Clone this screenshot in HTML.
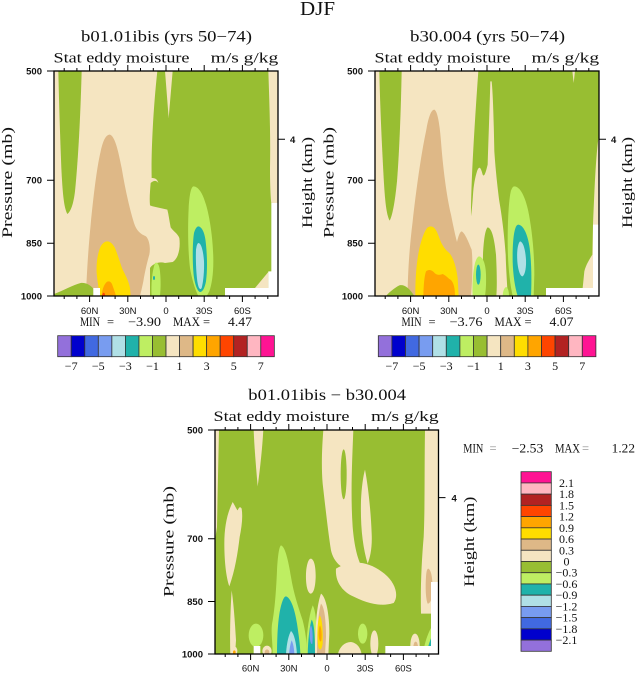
<!DOCTYPE html>
<html><head><meta charset="utf-8"><style>
html,body{margin:0;padding:0;background:#fff;width:637px;height:673px;overflow:hidden}
svg{display:block}
.wh{fill:#F5E5C1}.gr{fill:#98BE32}.pg{fill:#BEEE62}.tl{fill:#20B2AA}.pb{fill:#B0E0E6}.cf{fill:#789CF0}.rb{fill:#4169E1}.mb{fill:#0000CD}.pu{fill:#9370DB}
.bw{fill:#DEB887}.gd{fill:#FFDD00}.or{fill:#FFA500}.og{fill:#FF4500}.fb{fill:#B22222}.lp{fill:#FFB6C1}.dp{fill:#FF1493}.wt{fill:#fff}
text{font-family:"Liberation Serif",serif;fill:#111}
.tk{font-family:"Liberation Sans",sans-serif;font-weight:bold;font-size:9.5px}
.xl{font-family:"Liberation Sans",sans-serif;font-size:9.5px}
.cb{font-size:12px}
.mm{font-size:12.5px}
</style></head><body>
<svg width="637" height="673" viewBox="0 0 637 673" xmlns="http://www.w3.org/2000/svg">
<defs>
<clipPath id="c1"><rect x="12" y="9" width="672" height="675"/></clipPath>
<clipPath id="c2"><rect x="12" y="9" width="672" height="672"/></clipPath>
</defs>
<rect width="637" height="673" fill="#fff"/>

<text x="300" y="15" font-size="20" fill="#333" textLength="35" lengthAdjust="spacingAndGlyphs">DJF</text>

<!-- ================= PANEL 1 ================= -->
<g transform="translate(50,68) scale(0.333333)"><g clip-path="url(#c1)">
<rect x="12" y="9" width="672" height="675" class="wh"/>
<path class="gr" d="M25,9 L95,9 C92,120 86,260 75,370 C70,410 62,430 52,438 C42,420 38,380 34,300 C30,200 27,100 25,9 Z"/>
<path class="gr" d="M322,9 L345,9 L356,150 L368,9 L655,9 C658,100 662,200 660,300 C660,350 662,390 664,405 L684,405 L684,684 L300,684 L300,600 C310,585 330,580 345,585 L368,582 C385,572 392,540 388,510 C382,495 370,490 362,478 C358,458 356,440 352,425 C335,420 315,418 300,412 C298,390 300,370 302,345 C310,338 318,335 325,345 C322,333 315,330 305,330 C303,250 310,120 322,9 Z"/>
<path class="bw" d="M180,200 C195,205 205,250 215,300 C225,360 238,420 252,465 C260,490 272,498 288,505 C298,515 302,540 298,560 C292,580 285,610 280,640 C276,660 272,675 270,684 L108,684 C110,620 115,540 122,470 C130,390 140,300 152,250 C160,215 168,200 180,200 Z"/>
<path class="gr" d="M12,684 L12,678 C40,668 70,650 92,645 C108,643 122,652 130,662 L130,684 Z"/>
<path class="gd" d="M172,520 C182,520 190,530 195,540 C205,565 212,590 218,605 C228,625 236,640 240,660 L242,684 L150,684 C146,660 142,640 140,615 C138,580 145,550 152,535 C158,525 165,520 172,520 Z"/>
<path class="or" d="M155,684 C156,665 162,650 170,642 C176,638 182,640 186,648 C190,660 195,672 198,684 Z"/>
<path class="og" d="M156,684 C157,676 160,672 164,676 L166,684 Z"/>
<path class="pg" d="M305,684 C303,650 306,610 315,585 C322,580 328,590 330,610 C333,640 332,665 330,684 Z"/>
<ellipse class="tl" cx="312" cy="630" rx="3" ry="6"/>
<path class="pg" d="M430,355 C445,355 458,375 468,410 C480,450 490,520 490,580 C490,620 485,650 478,670 L470,684 L445,684 C435,665 425,630 420,600 C414,550 413,480 416,420 C418,385 422,358 430,355 Z"/>
<path class="tl" d="M446,475 C458,478 466,500 468,530 C472,570 472,610 468,640 C464,660 458,672 450,672 C440,668 432,640 430,610 C427,570 428,520 432,495 C436,482 440,475 446,475 Z"/>
<path class="pb" d="M446,525 C454,527 460,550 462,580 C463,610 460,640 455,660 C450,668 445,660 442,640 C438,610 437,570 438,545 C440,532 442,525 446,525 Z"/>
<path class="wh" d="M615,660 L655,612 L655,660 Z"/>
<path class="wt" d="M664,405 L684,405 L684,684 L525,684 L525,660 L655,660 L655,610 L664,610 Z"/>
<rect class="wt" x="130" y="660" width="20" height="24"/>
</g></g>
<g transform="translate(54,71)">
<rect x="0" y="0" width="224" height="225" fill="none" stroke="#000" stroke-width="1.3"/>
<path stroke="#000" stroke-width="1" fill="none" d="M35.6,0v-6M73.8,0v-6M112,0v-6M150.2,0v-6M188.4,0v-6M10.2,0v-3M22.9,0v-3M48.4,0v-3M61.1,0v-3M86.5,0v-3M99.3,0v-3M124.7,0v-3M137.5,0v-3M162.9,0v-3M175.6,0v-3M201.1,0v-3M213.8,0v-3
M35.6,225v6M73.8,225v6M112,225v6M150.2,225v6M188.4,225v6M10.2,225v3M22.9,225v3M48.4,225v3M61.1,225v3M86.5,225v3M99.3,225v3M124.7,225v3M137.5,225v3M162.9,225v3M175.6,225v3M201.1,225v3M213.8,225v3
M0,0h-7M0,109.2h-7M0,172.2h-7M0,225h-7M224,68.3h7"/>
</g>
<text x="81" y="41.5" font-size="15.5" textLength="171" lengthAdjust="spacingAndGlyphs">b01.01ibis (yrs 50−74)</text>
<text x="53.5" y="62.5" font-size="14.5" textLength="136" lengthAdjust="spacingAndGlyphs">Stat eddy moisture</text>
<text x="210.7" y="62.5" font-size="14.5" textLength="67.6" lengthAdjust="spacingAndGlyphs">m/s g/kg</text>
<text class="tk" x="42" y="74.5" text-anchor="end">500</text>
<text class="tk" x="42" y="183.7" text-anchor="end">700</text>
<text class="tk" x="42" y="246.7" text-anchor="end">850</text>
<text class="tk" x="42" y="299.5" text-anchor="end">1000</text>
<text class="tk" x="290" y="143">4</text>
<text class="xl" x="89.6" y="314" text-anchor="middle">60N</text>
<text class="xl" x="127.8" y="314" text-anchor="middle">30N</text>
<text class="xl" x="166" y="314" text-anchor="middle">0</text>
<text class="xl" x="204.2" y="314" text-anchor="middle">30S</text>
<text class="xl" x="242.4" y="314" text-anchor="middle">60S</text>
<text transform="translate(12.2,182.5) rotate(-90)" text-anchor="middle" font-size="15" textLength="111" lengthAdjust="spacingAndGlyphs">Pressure (mb)</text>
<text transform="translate(312.2,182.5) rotate(-90)" text-anchor="middle" font-size="15" textLength="91" lengthAdjust="spacingAndGlyphs">Height (km)</text>
<text class="mm" x="80" y="326" textLength="20" lengthAdjust="spacingAndGlyphs">MIN</text>
<text class="mm" x="107" y="326">=</text>
<text class="mm" x="128" y="326" textLength="33" lengthAdjust="spacingAndGlyphs">−3.90</text>
<text class="mm" x="173" y="326" textLength="27" lengthAdjust="spacingAndGlyphs">MAX</text>
<text class="mm" x="203" y="326">=</text>
<text class="mm" x="228" y="326" textLength="24" lengthAdjust="spacingAndGlyphs">4.47</text>
<!-- colorbar 1 -->
<g transform="translate(57.7,335.7)" stroke="#333" stroke-width="0.8">
<rect class="pu" x="0" y="0" width="13.54" height="21"/>
<rect class="mb" x="13.54" y="0" width="13.54" height="21"/>
<rect class="rb" x="27.08" y="0" width="13.54" height="21"/>
<rect class="cf" x="40.62" y="0" width="13.54" height="21"/>
<rect class="pb" x="54.16" y="0" width="13.54" height="21"/>
<rect class="tl" x="67.7" y="0" width="13.54" height="21"/>
<rect class="pg" x="81.24" y="0" width="13.54" height="21"/>
<rect class="gr" x="94.78" y="0" width="13.54" height="21"/>
<rect class="wh" x="108.32" y="0" width="13.54" height="21"/>
<rect class="bw" x="121.86" y="0" width="13.54" height="21"/>
<rect class="gd" x="135.4" y="0" width="13.54" height="21"/>
<rect class="or" x="148.94" y="0" width="13.54" height="21"/>
<rect class="og" x="162.48" y="0" width="13.54" height="21"/>
<rect class="fb" x="176.02" y="0" width="13.54" height="21"/>
<rect class="lp" x="189.56" y="0" width="13.54" height="21"/>
<rect class="dp" x="203.1" y="0" width="13.54" height="21"/>
</g>
<g text-anchor="middle">
<text class="cb" x="71.2" y="370">−7</text>
<text class="cb" x="98.3" y="370">−5</text>
<text class="cb" x="125.4" y="370">−3</text>
<text class="cb" x="152.5" y="370">−1</text>
<text class="cb" x="179.5" y="370">1</text>
<text class="cb" x="206.6" y="370">3</text>
<text class="cb" x="233.7" y="370">5</text>
<text class="cb" x="260.8" y="370">7</text>
</g>

<!-- ================= PANEL 2 ================= -->
<g transform="translate(371,68) scale(0.333333)"><g clip-path="url(#c1)">
<rect x="12" y="9" width="672" height="675" class="wh"/>
<path class="gr" d="M25,9 L92,9 C90,120 85,250 78,340 C72,400 65,440 56,458 C46,440 42,400 38,330 C32,220 27,110 25,9 Z"/>
<path class="gr" d="M322,9 L604,9 L608,45 L612,9 L684,9 L684,684 L410,684 C408,640 405,600 404,560 C400,500 392,440 385,400 C380,360 375,320 370,250 C368,150 366,80 362,40 L358,40 C356,120 352,220 350,290 C345,310 340,330 335,320 C330,300 325,290 318,310 C312,330 308,350 306,380 C304,410 302,430 300,445 C300,340 310,180 322,9 Z"/>
<path class="gr" d="M350,478 C362,480 370,510 375,560 C378,620 378,660 376,684 L340,684 C338,640 335,600 336,560 C338,520 342,485 350,478 Z"/>
<path class="bw" d="M190,125 C200,130 206,170 210,220 C216,300 226,380 240,440 C246,470 252,500 258,522 C262,505 266,492 272,490 C282,495 292,520 302,545 C306,580 304,640 300,684 L110,684 C110,620 115,540 125,460 C135,370 150,260 165,190 C172,150 180,125 190,125 Z"/>
<path class="gr" d="M45,684 C55,672 70,660 85,652 C100,648 115,660 130,684 Z"/>
<path class="gd" d="M180,475 C192,476 198,490 205,510 C212,530 222,545 235,555 C248,570 256,600 260,630 L263,684 L133,684 C133,650 134,610 140,570 C146,530 158,490 170,478 C174,476 177,475 180,475 Z"/>
<path class="or" d="M157,684 C158,650 160,625 165,610 C172,604 180,605 188,612 C195,622 205,622 215,618 C225,622 232,632 240,636 C248,645 252,660 252,684 Z"/>
<path class="pg" d="M325,565 C337,568 344,590 345,620 C346,650 344,670 342,684 L305,684 C303,650 306,610 312,585 C316,572 320,565 325,565 Z"/>
<ellipse class="tl" cx="322" cy="620" rx="7" ry="30"/>
<path class="pg" d="M395,684 C396,665 402,655 408,658 C413,665 414,675 414,684 Z"/>
<path class="pg" d="M430,355 C448,356 462,385 472,430 C482,480 490,550 490,620 L488,684 L425,684 C415,640 410,580 410,520 C410,450 414,390 420,368 C423,360 426,355 430,355 Z"/>
<path class="tl" d="M442,470 C458,472 470,500 476,540 C482,590 482,640 480,684 L440,684 C432,660 426,620 425,580 C424,530 428,490 435,476 C437,472 440,470 442,470 Z"/>
<path class="pb" d="M447,520 C457,522 463,545 465,575 C466,600 462,620 455,625 C447,625 441,605 439,580 C437,550 440,528 447,520 Z"/>
<path class="wh" d="M684,200 C674,260 670,380 666,470 L664,560 C655,575 645,590 640,610 L635,660 L684,660 Z"/>
<path class="wt" d="M666,470 L684,470 L684,684 L525,684 L525,660 L666,660 Z"/>
</g></g>
<g transform="translate(375,71)">
<rect x="0" y="0" width="224" height="225" fill="none" stroke="#000" stroke-width="1.3"/>
<path stroke="#000" stroke-width="1" fill="none" d="M35.6,0v-6M73.8,0v-6M112,0v-6M150.2,0v-6M188.4,0v-6M10.2,0v-3M22.9,0v-3M48.4,0v-3M61.1,0v-3M86.5,0v-3M99.3,0v-3M124.7,0v-3M137.5,0v-3M162.9,0v-3M175.6,0v-3M201.1,0v-3M213.8,0v-3
M35.6,225v6M73.8,225v6M112,225v6M150.2,225v6M188.4,225v6M10.2,225v3M22.9,225v3M48.4,225v3M61.1,225v3M86.5,225v3M99.3,225v3M124.7,225v3M137.5,225v3M162.9,225v3M175.6,225v3M201.1,225v3M213.8,225v3
M0,0h-7M0,109.2h-7M0,172.2h-7M0,225h-7M224,68.3h7"/>
</g>
<text x="410" y="41.5" font-size="15.5" textLength="155" lengthAdjust="spacingAndGlyphs">b30.004 (yrs 50−74)</text>
<text x="374.5" y="62.5" font-size="14.5" textLength="136" lengthAdjust="spacingAndGlyphs">Stat eddy moisture</text>
<text x="531.5" y="62.5" font-size="14.5" textLength="67.6" lengthAdjust="spacingAndGlyphs">m/s g/kg</text>
<text class="tk" x="363" y="74.5" text-anchor="end">500</text>
<text class="tk" x="363" y="183.7" text-anchor="end">700</text>
<text class="tk" x="363" y="246.7" text-anchor="end">850</text>
<text class="tk" x="363" y="299.5" text-anchor="end">1000</text>
<text class="tk" x="611" y="143">4</text>
<text class="xl" x="410.6" y="314" text-anchor="middle">60N</text>
<text class="xl" x="448.8" y="314" text-anchor="middle">30N</text>
<text class="xl" x="487" y="314" text-anchor="middle">0</text>
<text class="xl" x="525.2" y="314" text-anchor="middle">30S</text>
<text class="xl" x="563.4" y="314" text-anchor="middle">60S</text>
<text transform="translate(333.5,182.5) rotate(-90)" text-anchor="middle" font-size="15" textLength="111" lengthAdjust="spacingAndGlyphs">Pressure (mb)</text>
<text transform="translate(632.2,182.5) rotate(-90)" text-anchor="middle" font-size="15" textLength="91" lengthAdjust="spacingAndGlyphs">Height (km)</text>
<text class="mm" x="401.5" y="326" textLength="20" lengthAdjust="spacingAndGlyphs">MIN</text>
<text class="mm" x="428.5" y="326">=</text>
<text class="mm" x="449.5" y="326" textLength="33" lengthAdjust="spacingAndGlyphs">−3.76</text>
<text class="mm" x="494.5" y="326" textLength="27" lengthAdjust="spacingAndGlyphs">MAX</text>
<text class="mm" x="524.5" y="326">=</text>
<text class="mm" x="549.5" y="326" textLength="24" lengthAdjust="spacingAndGlyphs">4.07</text>
<g transform="translate(378.3,335.7)" stroke="#333" stroke-width="0.8">
<rect class="pu" x="0" y="0" width="13.6" height="21"/>
<rect class="mb" x="13.6" y="0" width="13.6" height="21"/>
<rect class="rb" x="27.2" y="0" width="13.6" height="21"/>
<rect class="cf" x="40.8" y="0" width="13.6" height="21"/>
<rect class="pb" x="54.4" y="0" width="13.6" height="21"/>
<rect class="tl" x="68" y="0" width="13.6" height="21"/>
<rect class="pg" x="81.6" y="0" width="13.6" height="21"/>
<rect class="gr" x="95.2" y="0" width="13.6" height="21"/>
<rect class="wh" x="108.8" y="0" width="13.6" height="21"/>
<rect class="bw" x="122.4" y="0" width="13.6" height="21"/>
<rect class="gd" x="136" y="0" width="13.6" height="21"/>
<rect class="or" x="149.6" y="0" width="13.6" height="21"/>
<rect class="og" x="163.2" y="0" width="13.6" height="21"/>
<rect class="fb" x="176.8" y="0" width="13.6" height="21"/>
<rect class="lp" x="190.4" y="0" width="13.6" height="21"/>
<rect class="dp" x="204" y="0" width="13.6" height="21"/>
</g>
<g text-anchor="middle">
<text class="cb" x="391.9" y="370">−7</text>
<text class="cb" x="419.1" y="370">−5</text>
<text class="cb" x="446.3" y="370">−3</text>
<text class="cb" x="473.5" y="370">−1</text>
<text class="cb" x="500.7" y="370">1</text>
<text class="cb" x="527.9" y="370">3</text>
<text class="cb" x="555.1" y="370">5</text>
<text class="cb" x="582.3" y="370">7</text>
</g>

<!-- ================= PANEL 3 (difference) ================= -->
<g transform="translate(211,427) scale(0.333333)"><g clip-path="url(#c2)">
<rect x="12" y="9" width="672" height="672" class="gr"/>
<path class="wh" d="M12,9 L24,9 C22,100 20,200 18,300 L12,340 Z"/>
<path class="wh" d="M128,9 L157,9 C154,60 148,120 140,178 C135,120 130,60 128,9 Z"/>
<path class="wh" d="M65,225 C70,232 75,245 80,250 C84,240 88,238 92,245 C96,270 92,300 86,330 C80,380 72,430 55,478 C45,450 40,400 40,350 C40,300 48,260 65,225 Z"/>
<path class="wh" d="M62,490 C68,530 72,590 75,640 L72,684 L58,684 C56,620 58,550 62,490 Z"/>
<path class="wh" d="M337,9 L427,9 C424,90 418,200 425,300 C430,360 440,395 452,420 L420,432 C392,425 368,405 360,370 C352,320 343,240 335,170 C330,110 334,50 337,9 Z"/>
<ellipse class="gr" cx="398" cy="142" rx="9" ry="75"/>
<path class="wh" d="M462,128 C472,180 480,260 482,320 C484,360 478,390 470,410 C455,360 448,300 450,220 C452,180 456,150 462,128 Z"/>
<path class="wh" d="M375,425 C420,398 470,400 520,440 C552,466 565,505 548,528 C505,542 460,525 420,505 C392,490 372,462 375,425 Z"/>
<path class="wh" d="M642,9 L684,9 L684,560 L630,560 C628,480 632,400 638,330 C642,250 640,120 642,9 Z"/>
<path class="bw" d="M652,425 C662,430 665,460 665,490 C664,515 658,530 650,530 C644,515 643,480 645,450 C646,435 648,425 652,425 Z"/>
<path class="wh" d="M300,395 C310,398 314,420 314,450 C313,480 308,500 298,500 C288,495 284,470 285,440 C286,415 292,395 300,395 Z"/>
<path class="wh" d="M380,684 C385,660 400,645 420,645 C440,648 450,665 452,684 Z"/>
<ellipse class="wh" cx="490" cy="650" rx="12" ry="40"/>
<ellipse class="wh" cx="612" cy="655" rx="14" ry="35"/>
<ellipse class="bw" cx="614" cy="662" rx="7" ry="18"/>
<ellipse class="wh" cx="168" cy="672" rx="14" ry="16"/>
<ellipse class="bw" cx="168" cy="676" rx="7" ry="9"/>
<ellipse class="wh" cx="70" cy="672" rx="9" ry="14"/>
<ellipse class="or" cx="70" cy="676" rx="4" ry="6"/>
<ellipse class="pg" cx="135" cy="625" rx="22" ry="35"/>
<ellipse class="pg" cx="455" cy="620" rx="14" ry="30"/>
<path class="pg" d="M210,355 C222,358 232,400 240,450 C248,500 262,540 275,580 C285,620 288,650 285,684 L185,684 C185,640 178,610 185,580 C192,540 196,480 198,430 C200,390 204,358 210,355 Z"/>
<path class="tl" d="M225,508 C240,512 252,550 258,590 C264,630 268,660 268,684 L198,684 C198,640 200,590 206,555 C212,525 218,508 225,508 Z"/>
<path class="pb" d="M240,612 C250,620 256,650 258,684 L225,684 C226,655 232,625 240,612 Z"/>
<path class="cf" d="M242,640 C247,650 250,668 250,684 L234,684 C235,668 238,650 242,640 Z"/>
<path class="pg" d="M305,535 C315,550 318,600 318,684 L285,684 C286,630 292,570 305,535 Z"/>
<path class="tl" d="M302,578 C310,590 312,630 312,684 L290,684 C291,640 295,600 302,578 Z"/>
<path class="cf" d="M300,595 C305,605 306,630 304,650 C300,655 296,640 296,620 C296,605 298,597 300,595 Z"/>
<path class="wh" d="M330,500 C345,510 355,560 355,620 L352,684 L312,684 C312,620 315,540 330,500 Z"/>
<path class="bw" d="M330,530 C340,540 345,580 345,630 L342,684 L318,684 C318,630 320,560 330,530 Z"/>
<path class="gd" d="M326,565 C334,575 336,610 335,650 C332,670 326,672 322,660 C318,630 318,590 326,565 Z"/>
<path class="or" d="M327,595 C332,605 333,625 331,640 C328,648 324,640 323,625 C323,610 324,600 327,595 Z"/>
<path class="pg" d="M684,570 C665,590 645,620 635,684 L684,684 Z"/>
<path class="tl" d="M684,590 C668,610 655,640 645,684 L684,684 Z"/>
<path class="cf" d="M684,610 C672,628 662,650 652,684 L684,684 Z"/>
<path class="rb" d="M684,625 C675,640 666,660 658,684 L684,684 Z"/>
<path class="wt" d="M660,465 L684,465 L684,684 L523,684 L523,657 L660,657 Z"/>
<rect class="wt" x="128" y="657" width="20" height="27"/>
</g></g>
<g transform="translate(215,430)">
<rect x="0" y="0" width="223.5" height="224" fill="none" stroke="#000" stroke-width="1.3"/>
<path stroke="#000" stroke-width="1" fill="none" d="M35.6,0v-6M73.8,0v-6M112,0v-6M150.2,0v-6M188.4,0v-6M10.2,0v-3M22.9,0v-3M48.4,0v-3M61.1,0v-3M86.5,0v-3M99.3,0v-3M124.7,0v-3M137.5,0v-3M162.9,0v-3M175.6,0v-3M201.1,0v-3M213.8,0v-3
M35.6,224v6M73.8,224v6M112,224v6M150.2,224v6M188.4,224v6M10.2,224v3M22.9,224v3M48.4,224v3M61.1,224v3M86.5,224v3M99.3,224v3M124.7,224v3M137.5,224v3M162.9,224v3M175.6,224v3M201.1,224v3M213.8,224v3
M0,0h-7M0,108.7h-7M0,171.5h-7M0,224h-7M223.5,67.6h7"/>
</g>
<text x="248.3" y="400" font-size="15.5" textLength="157.7" lengthAdjust="spacingAndGlyphs">b01.01ibis − b30.004</text>
<text x="213.5" y="421" font-size="14.5" textLength="136" lengthAdjust="spacingAndGlyphs">Stat eddy moisture</text>
<text x="371" y="421" font-size="14.5" textLength="67.6" lengthAdjust="spacingAndGlyphs">m/s g/kg</text>
<text class="tk" x="203" y="433.5" text-anchor="end">500</text>
<text class="tk" x="203" y="542.2" text-anchor="end">700</text>
<text class="tk" x="203" y="605" text-anchor="end">850</text>
<text class="tk" x="203" y="657.5" text-anchor="end">1000</text>
<text class="tk" x="451.5" y="501.3">4</text>
<text class="xl" x="250.6" y="671.5" text-anchor="middle">60N</text>
<text class="xl" x="288.8" y="671.5" text-anchor="middle">30N</text>
<text class="xl" x="327" y="671.5" text-anchor="middle">0</text>
<text class="xl" x="365.2" y="671.5" text-anchor="middle">30S</text>
<text class="xl" x="403.4" y="671.5" text-anchor="middle">60S</text>
<text transform="translate(173.5,541.5) rotate(-90)" text-anchor="middle" font-size="15" textLength="111" lengthAdjust="spacingAndGlyphs">Pressure (mb)</text>
<text transform="translate(473.8,541.7) rotate(-90)" text-anchor="middle" font-size="15" textLength="90" lengthAdjust="spacingAndGlyphs">Height (km)</text>
<text class="mm" x="463.3" y="452.5" textLength="20" lengthAdjust="spacingAndGlyphs">MIN</text>
<text class="mm" x="489.5" y="452.5" style="fill:#888">=</text>
<text class="mm" x="511.7" y="452.5" textLength="31.6" lengthAdjust="spacingAndGlyphs">−2.53</text>
<text class="mm" x="555" y="452.5" textLength="25" lengthAdjust="spacingAndGlyphs">MAX</text>
<text class="mm" x="582" y="452.5" style="fill:#888">=</text>
<text class="mm" x="611.7" y="452.5" textLength="23.3" lengthAdjust="spacingAndGlyphs">1.22</text>
<!-- vertical colorbar -->
<g transform="translate(521,471.7)" stroke="#333" stroke-width="0.8">
<rect class="dp" x="0" y="0" width="30.3" height="11.225"/>
<rect class="lp" x="0" y="11.225" width="30.3" height="11.225"/>
<rect class="fb" x="0" y="22.45" width="30.3" height="11.225"/>
<rect class="og" x="0" y="33.675" width="30.3" height="11.225"/>
<rect class="or" x="0" y="44.9" width="30.3" height="11.225"/>
<rect class="gd" x="0" y="56.125" width="30.3" height="11.225"/>
<rect class="bw" x="0" y="67.35" width="30.3" height="11.225"/>
<rect class="wh" x="0" y="78.575" width="30.3" height="11.225"/>
<rect class="gr" x="0" y="89.8" width="30.3" height="11.225"/>
<rect class="pg" x="0" y="101.025" width="30.3" height="11.225"/>
<rect class="tl" x="0" y="112.25" width="30.3" height="11.225"/>
<rect class="pb" x="0" y="123.475" width="30.3" height="11.225"/>
<rect class="cf" x="0" y="134.7" width="30.3" height="11.225"/>
<rect class="rb" x="0" y="145.925" width="30.3" height="11.225"/>
<rect class="mb" x="0" y="157.15" width="30.3" height="11.225"/>
<rect class="pu" x="0" y="168.375" width="30.3" height="11.225"/>
</g>
<g text-anchor="middle">
<text class="cb" x="566.5" y="487">2.1</text>
<text class="cb" x="566.5" y="498.2">1.8</text>
<text class="cb" x="566.5" y="509.4">1.5</text>
<text class="cb" x="566.5" y="520.6">1.2</text>
<text class="cb" x="566.5" y="531.8">0.9</text>
<text class="cb" x="566.5" y="543.1">0.6</text>
<text class="cb" x="566.5" y="554.3">0.3</text>
<text class="cb" x="566.5" y="565.5">0</text>
<text class="cb" x="566.5" y="576.7">−0.3</text>
<text class="cb" x="566.5" y="588">−0.6</text>
<text class="cb" x="566.5" y="599.2">−0.9</text>
<text class="cb" x="566.5" y="610.4">−1.2</text>
<text class="cb" x="566.5" y="621.6">−1.5</text>
<text class="cb" x="566.5" y="632.9">−1.8</text>
<text class="cb" x="566.5" y="644.1">−2.1</text>
</g>
</svg>
</body></html>
